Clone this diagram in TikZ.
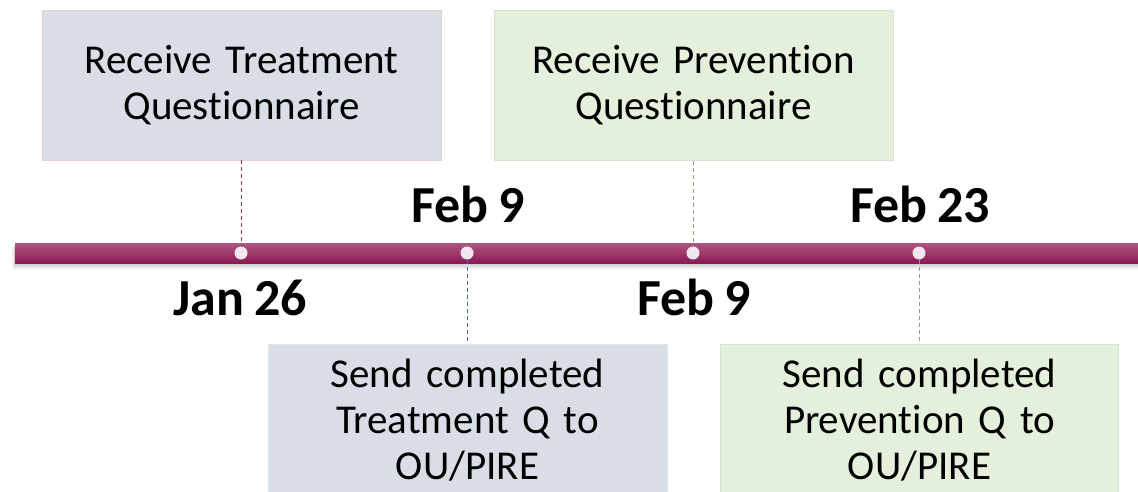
\documentclass[tikz,border=0pt]{standalone}
\usepackage{fontspec}
\setmainfont{Carlito}[Ligatures={NoCommon}, WordSpace=0.85]
\usetikzlibrary{calc}
\definecolor{bluebox}{RGB}{217,221,230}
\definecolor{greenbox}{RGB}{228,239,220}
\definecolor{pinkedge}{RGB}{228,206,216}
\definecolor{greenedge}{RGB}{214,228,206}
\definecolor{greyedge}{RGB}{225,228,234}
\definecolor{bartop}{RGB}{174,86,128}
\definecolor{barbot}{RGB}{138,26,86}
\definecolor{dotfill}{RGB}{242,230,239}
\definecolor{magline}{RGB}{150,50,100}
\definecolor{blueline}{RGB}{80,105,160}
\definecolor{greenline}{RGB}{135,165,125}
\definecolor{greyline}{RGB}{150,150,150}
\tikzset{
  evbox/.style={rectangle, inner sep=0pt, align=center, text width=390pt,
    font=\fontsize{41}{46}\selectfont, line width=0.8pt},
  datelbl/.style={font=\fontsize{52}{56}\selectfont\bfseries, inner sep=0pt, anchor=base},
  tdot/.style={circle, fill=dotfill, minimum size=13pt, inner sep=0pt},
  conn/.style={line width=0.9pt, dash pattern=on 4pt off 3pt}
}
\begin{document}
\begin{tikzpicture}[x=1pt,y=-1pt]
\useasboundingbox (0,0) rectangle (1138,492);
\fill[white] (0,0) rectangle (1138,492);
% boxes
\node[evbox, fill=bluebox, draw=pinkedge, minimum width=399pt, minimum height=150pt] (t1) at (241.5,85) {Receive Treatment\\Questionnaire};
\node[evbox, fill=greenbox, draw=greenedge, minimum width=399pt, minimum height=150pt] (t2) at (693.5,85.5) {Receive Prevention\\Questionnaire};
\node[evbox, fill=bluebox, draw=greyedge, minimum width=399pt, minimum height=152pt] (b1) at (467.5,420) {Send completed\\Treatment Q to\\OU/PIRE};
\node[evbox, fill=greenbox, draw=greenedge, minimum width=398pt, minimum height=152pt] (b2) at (919.5,420) {Send completed\\Prevention Q to\\OU/PIRE};
% bar shadow
\foreach \i/\o in {7/0.04,5/0.06,3/0.08,1/0.10}{
  \fill[black, opacity=\o] (15-\i*0.5,244+\i*0.4) rectangle (1140,263+\i);
}
% bar
\shade[top color=bartop, bottom color=barbot] (15,243) rectangle (1140,263);
% dots
\node[tdot] (d1) at (241,253) {};
\node[tdot] (d2) at (467,253) {};
\node[tdot] (d3) at (693,253) {};
\node[tdot] (d4) at (919,253) {};
% connectors
\draw[conn, magline] (t1.south -| d1) -- (d1.north);
\draw[conn, greenline] (t2.south -| d3) -- (d3.north);
\draw[conn, blueline] (d2.south) -- (b1.north -| d2);
\draw[conn, greyline] (d4.south) -- (b2.north -| d4);
% dates
\node[datelbl] (l2) at (468,222) {Feb 9};
\node[datelbl] (l4) at (920,222) {Feb 23};
\node[datelbl] (l1) at (240,315) {Jan 26};
\node[datelbl] (l3) at (694,315) {Feb 9};
\end{tikzpicture}
\end{document}
